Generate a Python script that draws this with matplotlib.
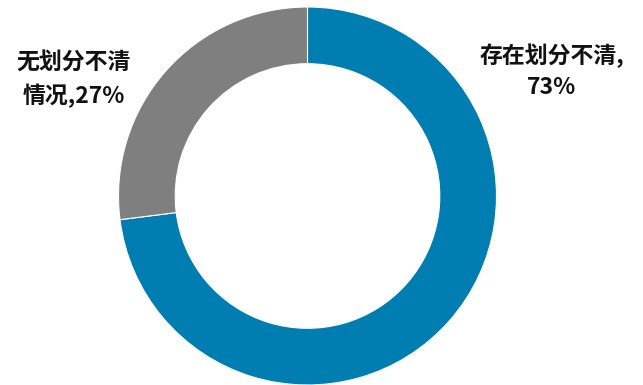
import matplotlib
matplotlib.use("Agg")
import matplotlib.pyplot as plt

plt.rcParams['font.family'] = ['Noto Sans CJK SC', 'DejaVu Sans']

categories = ["存在划分不清", "无划分不清情况"]
values = [73, 27]
colors = ["#007DB1", "#7F7F7F"]
label_texts = ["存在划分不清,\n73%", "无划分不清\n情况,27%"]

W, H = 643, 385
fig = plt.figure(figsize=(W / 100, H / 100), dpi=100)

# donut axes: radius 1 spans 189 px, centred at (307.5, 196) from top-left
R = 189
cx, cy = 307.5, H - 196
ax = fig.add_axes([(cx - R) / W, (cy - R) / H, 2 * R / W, 2 * R / H])
ax.pie(values, colors=colors, startangle=90, counterclock=False,
       radius=1.0, wedgeprops=dict(width=0.30, edgecolor="white", linewidth=0.8))
ax.set_xlim(-1, 1)
ax.set_ylim(-1, 1)
ax.set_aspect("equal")
ax.axis("off")

label_pos = [(552, 71), (74, 80)]
for txt, (px, py) in zip(label_texts, label_pos):
    fig.text(px / W, 1 - py / H, txt, ha="center", va="center",
             fontsize=16.5, fontweight="bold", color="#111111", linespacing=1.45)

fig.savefig("out.png", dpi=100)
